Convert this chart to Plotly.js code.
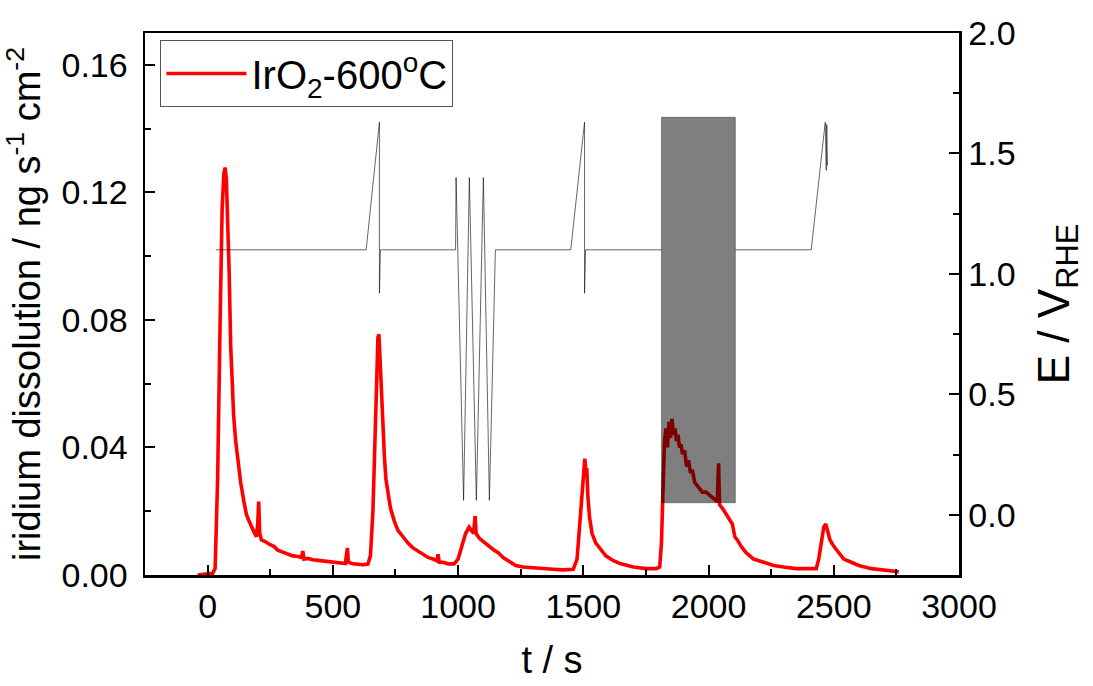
<!DOCTYPE html>
<html>
<head>
<meta charset="utf-8">
<script src="https://cdn.plot.ly/plotly-3.0.1.min.js"></script>
<style>html,body{margin:0;padding:0;background:#fff;}#chart{width:1093px;height:686px;}</style>
</head>
<body>
<div id="chart"></div>
<script>
// Iridium dissolution (left axis), t in s
const irTime = [-40,0,20,30,40,50,58,65,70,75,80,86,92,98,104,112,120,132,145,155,165,175,185,195,200,204,208,215,230,250,264,280,300,320,340,360,375,380,385,400,420,450,480,500,520,550,558,562,580,600,620,640,650,660,668,675,680,684,688,692,696,700,706,712,720,730,745,760,780,800,820,840,860,880,900,915,920,925,940,960,984,1000,1015,1030,1044,1055,1062,1068,1072,1085,1100,1120,1140,1160,1180,1200,1230,1260,1300,1340,1380,1420,1460,1475,1485,1495,1502,1506,1510,1514,1518,1525,1535,1550,1570,1590,1620,1650,1700,1750,1790,1805,1812,1818,1824,1830,1836,1842,1848,1854,1860,1866,1872,1878,1884,1890,1896,1905,1912,1920,1928,1935,1945,1955,1965,1975,1990,2005,2020,2035,2040,2044,2055,2070,2085,2095,2105,2115,2130,2150,2180,2220,2260,2300,2350,2400,2430,2440,2450,2460,2468,2475,2485,2500,2520,2540,2570,2600,2650,2700,2760];
const irValue = [0,0.0005,0.0005,0.002,0.03,0.08,0.115,0.126,0.1278,0.124,0.112,0.095,0.072,0.06,0.05,0.042,0.036,0.029,0.023,0.019,0.017,0.015,0.0135,0.012,0.016,0.023,0.013,0.011,0.0105,0.0095,0.009,0.0078,0.0072,0.0068,0.006,0.0058,0.0055,0.0075,0.005,0.0052,0.0048,0.0045,0.0042,0.004,0.0038,0.0036,0.0085,0.004,0.0035,0.0033,0.0032,0.0034,0.006,0.02,0.045,0.068,0.0745,0.0755,0.068,0.066,0.055,0.045,0.037,0.03,0.025,0.021,0.017,0.014,0.012,0.01,0.0085,0.0075,0.0065,0.0055,0.005,0.0045,0.0065,0.004,0.004,0.0035,0.0035,0.005,0.009,0.013,0.015,0.014,0.013,0.0185,0.013,0.0115,0.0105,0.0095,0.008,0.007,0.0055,0.0045,0.003,0.0025,0.0022,0.002,0.0018,0.0016,0.0018,0.005,0.015,0.028,0.033,0.0365,0.033,0.033,0.025,0.018,0.013,0.01,0.008,0.006,0.0045,0.0035,0.0025,0.002,0.002,0.0025,0.01,0.03,0.042,0.046,0.04,0.048,0.043,0.049,0.044,0.046,0.042,0.044,0.04,0.041,0.038,0.039,0.034,0.036,0.032,0.033,0.029,0.028,0.027,0.026,0.026,0.025,0.024,0.023,0.035,0.022,0.021,0.019,0.017,0.016,0.012,0.011,0.009,0.007,0.005,0.004,0.003,0.0025,0.002,0.002,0.002,0.005,0.01,0.015,0.016,0.014,0.011,0.009,0.007,0.005,0.004,0.003,0.002,0.0015,0.001];

// Applied potential (right axis), E vs RHE
const eTime = [32,633,686,686,690,990,992,1022,1045,1073,1101,1125,1149,1450,1505,1505,1509,1812,1812,2107,2107,2410,2466,2470,2472,2475];
const eValue = [1.10,1.10,1.63,0.92,1.10,1.10,1.40,0.06,1.40,0.06,1.40,0.06,1.10,1.10,1.63,0.92,1.10,1.10,null,null,1.10,1.10,1.63,1.43,1.62,1.45];

// Fast cycling block (dense CV), time span and potential limits
const cvTime = [1812, 2107];
const cvLimits = [0.05, 1.65];

const seriesName = 'IrO<sub>2</sub>-600<sup>o</sup>C';
const xTicks = [0,500,1000,1500,2000,2500,3000];
const yTicks = [0,0.04,0.08,0.12,0.16];
const y2Ticks = [0,0.5,1.0,1.5,2.0];

const FONT = 'Liberation Sans, Arial, sans-serif';

const traces = [
  {x: irTime, y: irValue, type: 'scatter', mode: 'lines', name: seriesName,
   line: {color: '#ff0000', width: 3.6}, yaxis: 'y'},
  {x: [cvTime[0], cvTime[0], cvTime[1], cvTime[1], cvTime[0]],
   y: [cvLimits[0], cvLimits[1], cvLimits[1], cvLimits[0], cvLimits[0]],
   type: 'scatter', mode: 'lines', fill: 'toself', fillcolor: 'rgba(0,0,0,0.5)',
   line: {color: 'rgba(0,0,0,0.35)', width: 1}, yaxis: 'y2', showlegend: false, hoverinfo: 'skip'},
  {x: eTime, y: eValue, type: 'scatter', mode: 'lines', connectgaps: false,
   line: {color: 'rgba(0,0,0,0.6)', width: 1}, yaxis: 'y2', showlegend: false}
];

const axisCommon = {
  showline: true, linecolor: '#000', linewidth: 2.5,
  ticks: 'inside', ticklen: 10, tickwidth: 2, tickcolor: '#000',
  showgrid: false, zeroline: false, automargin: false,
  tickfont: {family: FONT, size: 34, color: '#000'}
};

const layout = {
  width: 1093, height: 686,
  margin: {l: 145, r: 134, t: 33, b: 111},
  paper_bgcolor: '#fff', plot_bgcolor: '#fff',
  font: {family: FONT, color: '#000'},
  showlegend: true,
  legend: {x: 0.019, y: 0.987, xanchor: 'left', yanchor: 'top',
           bordercolor: '#555', borderwidth: 1, bgcolor: '#fff',
           font: {family: FONT, size: 40, color: '#000'}, itemwidth: 80},
  xaxis: Object.assign({}, axisCommon, {
    range: [-250, 3000], tickvals: xTicks, mirror: true,
    minor: {dtick: 250, tick0: 0, ticks: 'inside', ticklen: 6, tickwidth: 2, tickcolor: '#000'},
    title: {text: 't / s', font: {family: FONT, size: 38}, standoff: 22}
  }),
  yaxis: Object.assign({}, axisCommon, {
    range: [0, 0.17], tickvals: yTicks, tickformat: '.2f', ticklabelstandoff: 8,
    minor: {dtick: 0.02, tick0: 0, ticks: 'inside', ticklen: 6, tickwidth: 2, tickcolor: '#000'},
    title: {text: 'iridium dissolution / ng s<sup>-1</sup> cm<sup>-2</sup>', font: {family: FONT, size: 38}, standoff: 10}
  }),
  yaxis2: Object.assign({}, axisCommon, {
    overlaying: 'y', side: 'right', anchor: 'x',
    range: [-0.25, 2.0], tickvals: y2Ticks, tickformat: '.1f',
    minor: {dtick: 0.25, tick0: 0, ticks: 'inside', ticklen: 6, tickwidth: 2, tickcolor: '#000'},
    title: {text: 'E / V<sub>RHE</sub>', font: {family: FONT, size: 44}, standoff: 24}
  })
};

Plotly.newPlot('chart', traces, layout, {displayModeBar: false, staticPlot: true});
</script>
</body>
</html>
